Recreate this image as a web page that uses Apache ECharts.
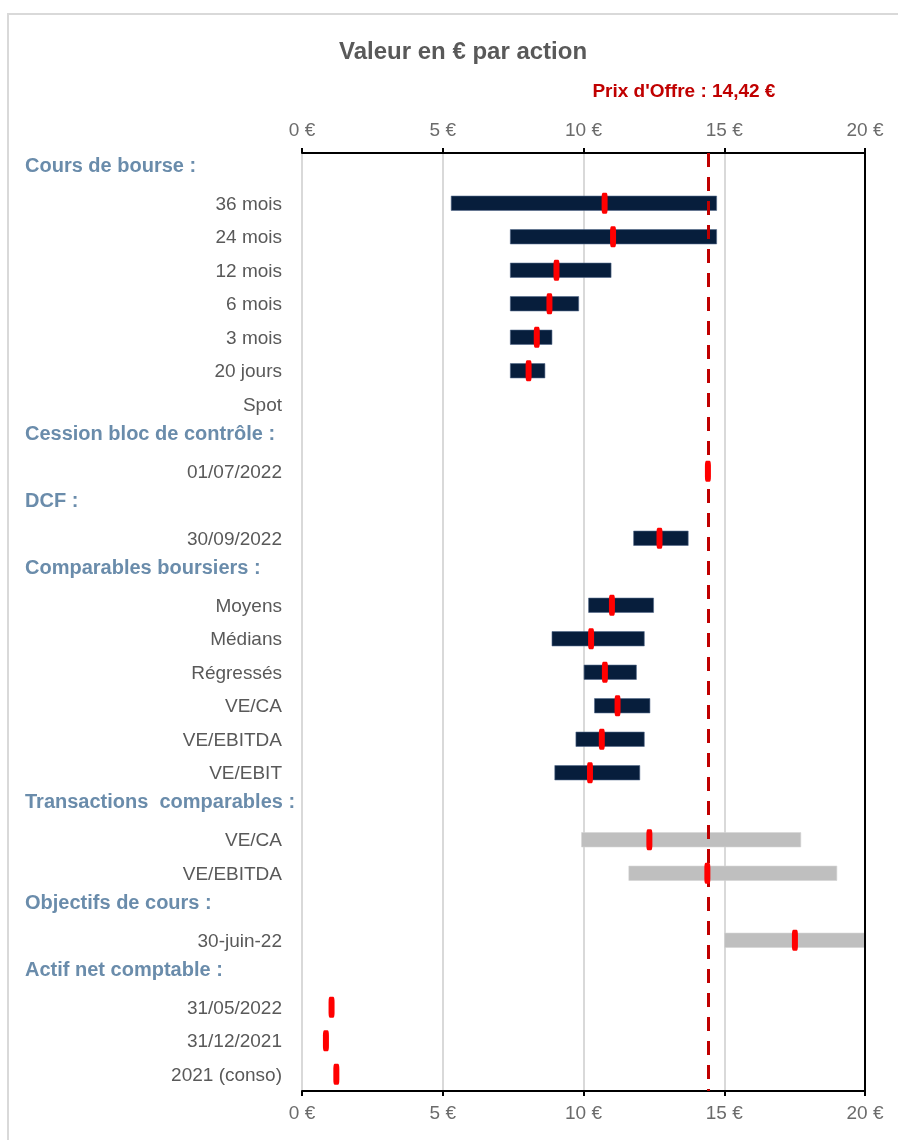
<!DOCTYPE html>
<html>
<head>
<meta charset="utf-8">
<script src="https://cdn.jsdelivr.net/npm/echarts@6/dist/echarts.min.js"></script>
<style>
html,body{margin:0;padding:0;background:#fff;}
#chart{width:898px;height:1140px;}
</style>
</head>
<body>
<div id="chart"></div>
<script>
// ---- Data ----
const categories = [
  'Cours de bourse :', '36 mois', '24 mois', '12 mois', '6 mois', '3 mois', '20 jours', 'Spot',
  'Cession bloc de contrôle :', '01/07/2022',
  'DCF :', '30/09/2022',
  'Comparables boursiers :', 'Moyens', 'Médians', 'Régressés', 'VE/CA', 'VE/EBITDA', 'VE/EBIT',
  'Transactions  comparables :', 'VE/CA', 'VE/EBITDA',
  'Objectifs de cours :', '30-juin-22',
  'Actif net comptable :', '31/05/2022', '31/12/2021', '2021 (conso)'
];
const lows  = [null, 5.29, 7.39, 7.39, 7.39, 7.39, 7.39, null, null, null, null, 11.77, null, 10.17, 8.87, 10.01, 10.38, 9.72, 8.97, null, 9.92, 11.60, null, 15.00, null, null, null, null];
const highs = [null, 14.74, 14.74, 10.99, 9.84, 8.89, 8.64, null, null, null, null, 13.73, null, 12.50, 12.17, 11.89, 12.37, 12.17, 12.01, null, 17.73, 19.01, null, 20.00, null, null, null, null];
const mids  = [null, 10.75, 11.05, 9.04, 8.79, 8.34, 8.05, null, null, 14.42, null, 12.70, null, 11.01, 10.27, 10.76, 11.21, 10.65, 10.23, null, 12.34, 14.40, null, 17.51, null, 1.05, 0.85, 1.22];
const offerPrice = 14.42;
const offerLabel = "Prix d'Offre : 14,42 €";
const xMin = 0, xMax = 20, xStep = 5;
const lightSections = ['Transactions  comparables :', 'Objectifs de cours :'];

// ---- Derived ----
const isHeader = c => /:\s*$/.test(c);
let currentSection = '';
const rowSection = categories.map(c => { if (isHeader(c)) currentSection = c; return currentSection; });

const FONT = "'Liberation Sans', Arial, sans-serif";
const NAVY = '#071E3C';
const GREY = '#BFBFBF';

const baseData = lows.map(v => v == null ? '-' : v);
const spanData = lows.map((lo, i) => {
  if (lo == null || highs[i] == null) return '-';
  const light = lightSections.indexOf(rowSection[i]) >= 0;
  return {value: +(highs[i] - lo).toFixed(4),
          itemStyle: {color: light ? GREY : NAVY, borderColor: light ? '#d4d4d4' : '#53688a', borderWidth: 0.6}};
});
const midData = [];
mids.forEach((m, i) => { if (m != null) midData.push([m, i]); });

const chart = echarts.init(document.getElementById('chart'), null, {renderer: 'canvas'});

const xAxisCommon = {
  type: 'value', min: xMin, max: xMax, interval: xStep,
  axisLine: {show: true, onZero: false, lineStyle: {color: '#000', width: 2}},
  axisTick: {show: true, length: 5, lineStyle: {color: '#000', width: 2}},
  axisLabel: {formatter: v => v + ' €', fontFamily: FONT, fontSize: 19, color: '#6b6b6b', margin: 13}
};

const option = {
  animation: false,
  backgroundColor: '#fff',
  title: {
    text: 'Valeur en € par action',
    left: 334, top: 35,
    textStyle: {fontFamily: FONT, fontSize: 24, fontWeight: 'bold', color: '#595959'}
  },
  grid: {left: 302, right: 33, top: 153, bottom: 49, containLabel: false},
  xAxis: [
    Object.assign({}, xAxisCommon, {position: 'top',
      splitLine: {show: true, lineStyle: {color: '#D9D9D9', width: 2}}}),
    Object.assign({}, xAxisCommon, {position: 'bottom', splitLine: {show: false}})
  ],
  yAxis: {
    type: 'category', data: categories, inverse: true,
    axisLine: {show: false}, axisTick: {show: false}, splitLine: {show: false},
    axisLabel: {
      interval: 0, margin: 20, align: 'right',
      formatter: v => isHeader(v) ? '{h|' + v + '}' : '{s|' + v + '}',
      rich: {
        s: {fontFamily: FONT, fontSize: 19, color: '#595959', padding: [3, 0, 0, 0]},
        h: {fontFamily: FONT, fontSize: 20, fontWeight: 'bold', color: '#6A8CAB',
            width: 257, align: 'left', padding: [0, 0, 7, 0]}
      }
    }
  },
  series: [
    {
      type: 'bar', name: 'base', stack: 'range', xAxisIndex: 0, yAxisIndex: 0,
      barWidth: 15, silent: true,
      itemStyle: {color: 'rgba(0,0,0,0)'},
      data: baseData
    },
    {
      type: 'bar', name: 'Fourchette', stack: 'range', xAxisIndex: 0, yAxisIndex: 0,
      barWidth: 15,
      data: spanData
    },
    {
      type: 'line', name: 'Prix', xAxisIndex: 0, yAxisIndex: 0, data: [],
      markLine: {
        silent: true, symbol: ['none', 'none'], z: 5,
        label: {show: false},
        data: [
          {xAxis: offerPrice, lineStyle: {color: '#C00000', width: 3, type: [14, 10]}},
          {xAxis: xMax, lineStyle: {color: '#000', width: 2, type: 'solid'}}
        ]
      }
    },
    {
      type: 'scatter', name: 'Médiane', xAxisIndex: 0, yAxisIndex: 0, z: 10,
      data: midData,
      symbol: 'roundRect', symbolSize: [6, 21],
      itemStyle: {color: '#FF0000', opacity: 1}
    }
  ]
};
chart.setOption(option);

const px = chart.convertToPixel({xAxisIndex: 0}, offerPrice);
chart.setOption({
  graphic: [
    {type: 'line', shape: {x1: 7, y1: 14, x2: 898, y2: 14}, style: {stroke: '#D9D9D9', lineWidth: 2}, silent: true},
    {type: 'line', shape: {x1: 8, y1: 13, x2: 8, y2: 1140}, style: {stroke: '#D9D9D9', lineWidth: 2}, silent: true},
    {type: 'text', x: px - 24, y: 92, silent: true,
      style: {text: offerLabel, fill: '#C00000', font: 'bold 19px ' + FONT, align: 'center', verticalAlign: 'middle'}}
  ]
});
</script>
</body>
</html>
